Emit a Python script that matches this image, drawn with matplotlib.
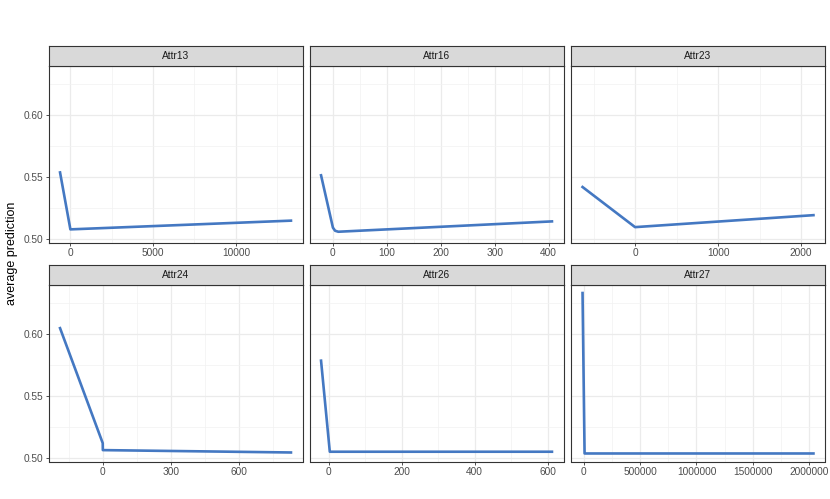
import matplotlib as mpl
mpl.use('Agg')

import matplotlib.pyplot as plt
import numpy as np

plt.rcParams['font.family'] = ['Liberation Sans', 'DejaVu Sans']

# panel names and the partial-dependence style curves
names = ["Attr13", "Attr16", "Attr23", "Attr24", "Attr26", "Attr27"]

x13 = [-625, 0, 13330]
y13 = [0.5538, 0.5081, 0.5151]
x16 = [-22, 0, 4, 10, 406]
y16 = [0.5515, 0.5095, 0.5070, 0.5062, 0.5145]
x23 = [-633, 0, 2150]
y23 = [0.5421, 0.5099, 0.5195]
x24 = [-188, 0, 0.5, 829]
y24 = [0.6046, 0.5123, 0.5067, 0.5048]
x26 = [-21, 3, 612]
y26 = [0.5785, 0.5054, 0.5054]
x27 = [-12000, 6000, 2039000]
y27 = [0.6328, 0.5040, 0.5040]

xs = [x13, x16, x23, x24, x26, x27]
ys = [y13, y16, y23, y24, y26, y27]

major_x = [[0, 5000, 10000], [0, 100, 200, 300, 400], [0, 1000, 2000],
           [0, 300, 600], [0, 200, 400, 600],
           [0, 500000, 1000000, 1500000, 2000000]]
minor_x = [[2500, 7500, 12500], [50, 150, 250, 350], [-500, 500, 1500],
           [-150, 150, 450, 750], [100, 300, 500],
           [250000, 750000, 1250000, 1750000]]
major_y = [0.50, 0.55, 0.60]
minor_y = [0.525, 0.575, 0.625]

W, H = 830, 499
fig = plt.figure(figsize=(W / 100, H / 100), dpi=100)

lefts = [48.5, 309.5, 571]
pw = 254
tops = [66, 285]      # panel top (strip is above)
ph = 176.5
sh = 20.5

allv = np.concatenate([np.array(v) for v in ys])
ylo, yhi = allv.min(), allv.max()
yr = yhi - ylo
ylim = (ylo - 0.05 * yr, yhi + 0.05 * yr)

line_col = '#4478c2'
frame = '#333333'

for i, nm in enumerate(names):
    r, c = divmod(i, 3)
    l = lefts[c]
    t = tops[r]
    ax = fig.add_axes([l / W, 1 - (t + ph) / H, pw / W, ph / H])
    sax = fig.add_axes([l / W, 1 - t / H, pw / W, sh / H])

    x = np.array(xs[i])
    xr = x.max() - x.min()
    ax.set_xlim(x.min() - 0.05 * xr, x.max() + 0.05 * xr)
    ax.set_ylim(*ylim)

    for v in minor_x[i]:
        ax.axvline(v, color='#f2f2f2', lw=0.5, zorder=0)
    for v in major_x[i]:
        ax.axvline(v, color='#ebebeb', lw=0.9, zorder=0)
    for v in minor_y:
        ax.axhline(v, color='#f2f2f2', lw=0.5, zorder=0)
    for v in major_y:
        ax.axhline(v, color='#ebebeb', lw=0.9, zorder=0)

    ax.plot(x, ys[i], color=line_col, lw=1.9, solid_joinstyle='round', zorder=3)

    ax.set_xticks(major_x[i])
    ax.set_xticklabels([str(v) for v in major_x[i]])
    ax.set_yticks(major_y)
    ax.tick_params(length=2.5, width=0.6, color=frame, labelsize=7.3,
                   labelcolor='#4d4d4d', pad=1.5)
    if c == 0:
        ax.set_yticklabels(["%.2f" % v for v in major_y])
    else:
        ax.tick_params(axis='y', left=False, labelleft=False)
    for s in ax.spines.values():
        s.set_color(frame)
        s.set_linewidth(0.8)

    sax.set_facecolor('#d9d9d9')
    sax.set_xticks([])
    sax.set_yticks([])
    for s in sax.spines.values():
        s.set_color(frame)
        s.set_linewidth(0.8)
    sax.text(0.5, 0.5, nm, ha='center', va='center', fontsize=7.3,
             color='#1a1a1a', transform=sax.transAxes)

fig.text(12 / W, 1 - 253 / H, "average prediction", rotation=90,
         ha='center', va='center', fontsize=9, color='black')

plt.savefig("out.png", dpi=100)
